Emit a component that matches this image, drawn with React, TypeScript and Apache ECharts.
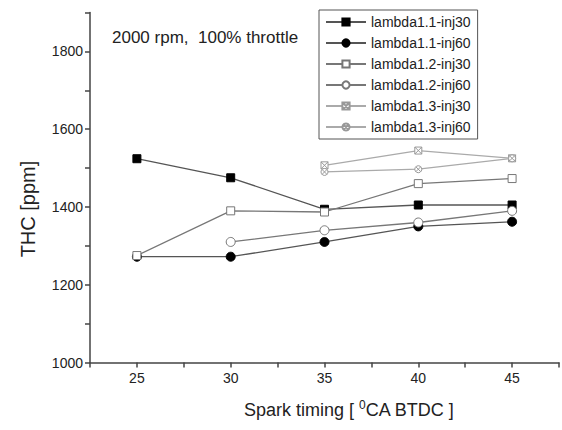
import React, { useEffect, useRef } from "react";
import * as echarts from "echarts";

const sparkTiming = [25, 30, 35, 40, 45];
const l11inj30 = [1524, 1475, 1394, 1405, 1405];
const l11inj60 = [1272, 1272, 1310, 1350, 1362];
const l12inj30 = [1275, 1390, 1387, 1460, 1473];
const l12inj60 = [null, 1310, 1340, 1360, 1390];
const l13inj30 = [null, null, 1507, 1545, 1525];
const l13inj60 = [null, null, 1490, 1497, 1525];
const seriesNames = [
  "lambda1.1-inj30",
  "lambda1.1-inj60",
  "lambda1.2-inj30",
  "lambda1.2-inj60",
  "lambda1.3-inj30",
  "lambda1.3-inj60",
];
const annotation = "2000 rpm,  100% throttle";
const yAxisName = "THC [ppm]";
const xAxisName = "Spark timing [ {sup|0}CA BTDC ]";

const FONT = 'Arial, "Liberation Sans", sans-serif';
const xSquare = "path://M0,0L10,0L10,10L0,10Z M0,0L10,10 M10,0L0,10";
const xCircle = "path://M5,0A5,5 0 1 1 4.99,0Z M1.5,1.5L8.5,8.5 M8.5,1.5L1.5,8.5";

function pairs(vals: (number | null)[]) {
  return sparkTiming.map((x, i) => [x, vals[i]]).filter((p) => p[1] !== null);
}

export default function App() {
  const ref = useRef<HTMLDivElement>(null);
  useEffect(() => {
    if (!ref.current) return;
    const chart = echarts.init(ref.current, null, { renderer: "svg" });
    const mk = (
      name: string,
      vals: (number | null)[],
      symbol: string,
      size: number,
      fill: string,
      border: string,
      line: string
    ) => ({
      name,
      type: "line",
      data: pairs(vals),
      symbol,
      symbolSize: size,
      showAllSymbol: true,
      lineStyle: { color: line, width: 1.3 },
      itemStyle: { color: fill, borderColor: border, borderWidth: 1 },
      z: 3,
    });
    chart.setOption({
      animation: false,
      backgroundColor: "#fff",
      grid: { left: 90, top: 12.5, width: 474, height: 350, containLabel: false },
      xAxis: {
        type: "value",
        min: 22.5,
        max: 47.5,
        interval: 2.5,
        axisLine: { show: true, lineStyle: { color: "#444", width: 1.5 } },
        axisTick: { show: true, inside: false, length: 5, lineStyle: { color: "#444", width: 1.5 } },
        axisLabel: {
          fontFamily: FONT,
          fontSize: 14,
          color: "#222",
          margin: 8,
          formatter: (v: number) => (v % 5 === 0 ? String(v) : ""),
        },
        splitLine: { show: false },
      },
      yAxis: {
        type: "value",
        min: 1000,
        max: 1900,
        interval: 100,
        axisLine: { show: true, lineStyle: { color: "#444", width: 1.5 } },
        axisTick: { show: true, inside: false, length: 5, lineStyle: { color: "#444", width: 1.5 } },
        axisLabel: {
          fontFamily: FONT,
          fontSize: 14,
          color: "#222",
          margin: 7,
          formatter: (v: number) => (v % 200 === 0 && v < 1900 ? String(v) : ""),
        },
        splitLine: { show: false },
      },
      legend: {
        orient: "vertical",
        left: 319,
        top: 10,
        padding: [5, 7, 5, 6],
        itemWidth: 40,
        itemHeight: 9,
        itemGap: 7,
        borderColor: "#555",
        borderWidth: 1,
        backgroundColor: "#fff",
        textStyle: { fontFamily: FONT, fontSize: 14, color: "#222" },
        data: seriesNames,
      },
      graphic: [
        {
          type: "text",
          left: 112,
          top: 29,
          style: { text: annotation, fontFamily: FONT, fontSize: 17, fill: "#222" },
        },
        {
          type: "text",
          x: 28,
          y: 209,
          rotation: Math.PI / 2,
          style: {
            text: yAxisName,
            fontFamily: FONT,
            fontSize: 20,
            fill: "#222",
            align: "center",
            verticalAlign: "middle",
          },
        },
        {
          type: "text",
          left: 244,
          top: 399,
          style: {
            text: xAxisName,
            fontFamily: FONT,
            fontSize: 18,
            fill: "#222",
            rich: {
              sup: { fontSize: 12, fontFamily: FONT, fill: "#222", verticalAlign: "top", padding: [0, 0, 9, 0] },
            },
          },
        },
      ],
      series: [
        mk(seriesNames[0], l11inj30, "rect", 8, "#000", "#000", "#555"),
        mk(seriesNames[1], l11inj60, "circle", 9, "#000", "#000", "#555"),
        mk(seriesNames[2], l12inj30, "rect", 8, "#fff", "#777", "#777"),
        mk(seriesNames[3], l12inj60, "circle", 9, "#fff", "#777", "#777"),
        mk(seriesNames[4], l13inj30, xSquare, 7, "#fff", "#999", "#aaa"),
        mk(seriesNames[5], l13inj60, xCircle, 7, "#fff", "#999", "#aaa"),
      ],
    });
    return () => chart.dispose();
  }, []);
  return <div ref={ref} style={{ width: 562, height: 430, position: "absolute", left: 0, top: 0 }} />;
}
